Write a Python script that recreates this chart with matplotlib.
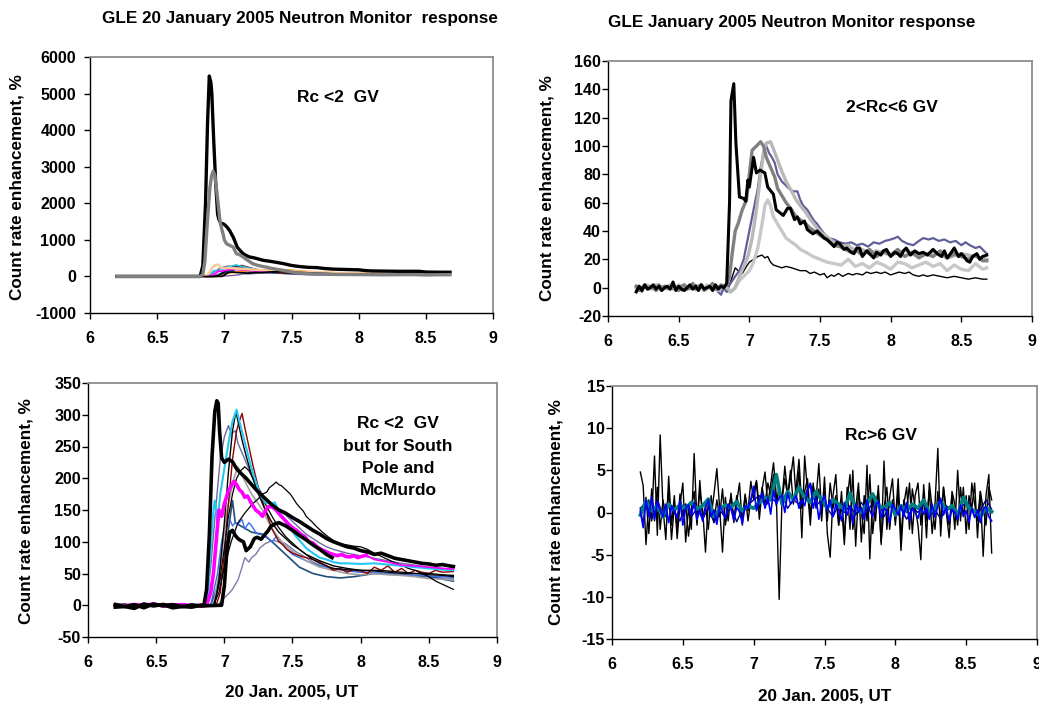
import numpy as np
import matplotlib
matplotlib.use("Agg")
import matplotlib.pyplot as plt
from matplotlib.ticker import FormatStrFormatter

plt.rcParams['font.family'] = ['Liberation Sans', 'DejaVu Sans']
plt.rcParams['font.weight'] = 'bold'
plt.rcParams['axes.unicode_minus'] = False

# ---------------- Panel 1 (Rc < 2 GV, all) ----------------
P1_SP_T = [6.2, 6.82, 6.84, 6.86, 6.875, 6.888, 6.9, 6.907, 6.92, 6.935, 6.95, 6.96, 6.975,
           6.99, 7.0, 7.02, 7.04, 7.066, 7.08, 7.096, 7.12, 7.14, 7.17, 7.19, 7.22, 7.25, 7.29,
           7.33, 7.38, 7.44, 7.5, 7.56, 7.62, 7.69, 7.75, 7.81, 7.9, 8.0, 8.05, 8.1, 8.2, 8.3,
           8.45, 8.5, 8.6, 8.68]
P1_SP_V = [0, 0, 300, 2000, 4200, 5480, 5300, 5000, 3800, 2600, 1700, 1550, 1450,
           1440, 1420, 1350, 1250, 1075, 950, 800, 700, 620, 560, 530, 510, 480, 440,
           420, 390, 350, 300, 270, 250, 240, 215, 200, 190, 180, 160, 150, 145, 140,
           140, 120, 115, 115]
P1_MC_T = [6.2, 6.82, 6.84, 6.855, 6.868, 6.88, 6.893, 6.905, 6.917, 6.93, 6.94, 6.955, 6.967,
           6.98, 6.99, 7.0, 7.017, 7.04, 7.066, 7.09, 7.11, 7.14, 7.17, 7.21, 7.25, 7.31, 7.38,
           7.44, 7.5, 7.56, 7.65, 7.81, 8.0, 8.2, 8.4, 8.5, 8.68]
P1_MC_V = [0, 0, 50, 400, 1170, 1800, 2440, 2750, 2880, 2750, 2440, 1950, 1530,
           1300, 1170, 1000, 890, 850, 800, 620, 600, 530, 450, 350, 300, 255, 200,
           165, 120, 90, 70, 55, 50, 45, 50, 40, 50]

# ---------------- Panel 2 (2 < Rc < 6 GV) ----------------
P2_PRE_T = np.linspace(6.20, 6.82, 32)
P2_BLACK_PRE = [-3, 1, -2, 2, -1, 0, 2, -1, 1, -2, 0, 1, -1, 4, -2, 1, -1, -2, 0, 2, -1, 1,
                -2, 2, -1, 0, 1, -2, 2, -1, 1, 0]
P2_BLACK_T = [6.84, 6.86, 6.87, 6.89, 6.905, 6.93, 6.96, 6.975, 6.99, 7.0, 7.03, 7.05, 7.075,
              7.11, 7.13, 7.17, 7.19, 7.24, 7.27, 7.29, 7.32, 7.34, 7.36, 7.39, 7.41, 7.45,
              7.48, 7.5, 7.53, 7.55, 7.58, 7.6, 7.62, 7.64, 7.67, 7.69, 7.72, 7.74, 7.76,
              7.78, 7.8, 7.83, 7.85, 7.88, 7.9, 7.93, 7.95, 7.97, 8.0, 8.03, 8.05, 8.07,
              8.09, 8.11, 8.14, 8.17, 8.2, 8.23, 8.26, 8.3, 8.33, 8.36, 8.38, 8.4, 8.43,
              8.45, 8.48, 8.5, 8.52, 8.54, 8.56, 8.58, 8.61, 8.63, 8.65, 8.68]
P2_BLACK_V = [3, 60, 132, 144, 102, 64, 63, 61, 76, 71, 92, 81, 83, 81, 71, 66, 55, 51, 56,
              56, 48, 50, 45, 47, 41, 38, 40, 38, 35, 34, 31, 29, 32, 31, 27, 28, 25, 24,
              28, 28, 22, 26, 24, 21, 25, 23, 26, 27, 22, 25, 24, 22, 26, 28, 23, 26, 24,
              25, 23, 27, 24, 22, 26, 21, 25, 28, 22, 24, 22, 19, 18, 22, 24, 20, 22, 23]
P2_DGRAY_PRE = [1, -2, 0, 2, -1, 1, 0, -2, 2, -1, 1, 0, -1, 2, 0, -2, 1, 2, -1, 0, 3, -1, 1,
                2, -2, 0, 1, 3, -1, 0, 2, 1]
P2_DGRAY_T = [6.84, 6.86, 6.88, 6.9, 6.92, 6.95, 6.98, 7.0, 7.02, 7.05, 7.08, 7.1, 7.12, 7.15,
              7.18, 7.2, 7.23, 7.26, 7.3, 7.33, 7.36, 7.4, 7.43, 7.46, 7.5, 7.53, 7.56, 7.6,
              7.64, 7.68, 7.72, 7.76, 7.8, 7.85, 7.9, 7.95, 8.0, 8.05, 8.1, 8.15, 8.2, 8.25,
              8.3, 8.35, 8.4, 8.45, 8.5, 8.55, 8.6, 8.65, 8.68]
P2_DGRAY_V = [2, 8, 25, 40, 45, 55, 62, 80, 97, 100, 103, 100, 92, 85, 78, 70, 65, 60, 55,
              50, 48, 45, 42, 40, 37, 35, 33, 30, 29, 27, 25, 26, 23, 27, 22, 26, 23, 27,
              22, 25, 21, 24, 22, 26, 21, 24, 22, 20, 23, 19, 19]
P2_SLATE_PRE = [-2, 0, -3, 1, -1, 0, 1, -2, 0, 1, -1, 0, 2, -1, 0, 1, -2, 0, 1, -1, 0, 2, -1,
                1, 0, -1, 1, -2, 0, -3, -5, 0]
P2_SLATE_T = [6.84, 6.86, 6.88, 6.9, 6.93, 6.96, 6.98, 7.0, 7.02, 7.04, 7.06, 7.08, 7.1, 7.12,
              7.14, 7.16, 7.18, 7.2, 7.23, 7.26, 7.28, 7.31, 7.34, 7.36, 7.38, 7.41, 7.44,
              7.46, 7.48, 7.5, 7.53, 7.56, 7.6, 7.64, 7.68, 7.72, 7.76, 7.8, 7.84, 7.88,
              7.92, 7.96, 8.0, 8.03, 8.05, 8.08, 8.12, 8.16, 8.2, 8.23, 8.27, 8.3, 8.34,
              8.38, 8.42, 8.46, 8.5, 8.53, 8.56, 8.6, 8.63, 8.66, 8.68]
P2_SLATE_V = [-3, 2, 5, 8, 12, 20, 30, 40, 50, 60, 70, 85, 95, 100, 95, 92, 88, 80, 75, 72,
              70, 68, 68, 62, 58, 55, 50, 47, 45, 42, 38, 35, 34, 32, 31, 32, 30, 31, 29,
              32, 31, 33, 34, 35, 36, 33, 31, 30, 33, 35, 34, 35, 33, 34, 32, 33, 30, 32,
              30, 28, 29, 26, 24]
P2_LGRAY_PRE = [0, 1, -1, 2, 0, -1, 1, 2, -1, 0, 1, -1, 2, 0, -1, 1, 0, 2, -1, 1, 0, -1, 1, 2,
                0, -1, 1, 0, 2, -2, 0, 1]
P2_LGRAY_T = [6.84, 6.87, 6.9, 6.93, 6.96, 6.99, 7.02, 7.05, 7.08, 7.1, 7.12, 7.15, 7.17, 7.2,
              7.23, 7.26, 7.3, 7.33, 7.36, 7.4, 7.44, 7.48, 7.52, 7.56, 7.6, 7.65, 7.7, 7.75,
              7.8, 7.85, 7.9, 8.0, 8.1, 8.2, 8.3, 8.4, 8.5, 8.6, 8.68]
P2_LGRAY_V = [0, -3, 0, 8, 15, 22, 35, 55, 80, 95, 102, 103, 98, 90, 82, 75, 68, 62, 58, 53,
              47, 42, 38, 35, 32, 29, 30, 26, 27, 24, 26, 23, 26, 22, 25, 21, 24, 22, 20]
P2_PALE_PRE = [1, 0, -1, 1, 2, 0, -1, 1, 0, -2, 1, 0, 1, -1, 0, 2, 1, -1, 0, 1, -1, 0, 1, 0,
               -1, 2, 0, 1, -1, 0, -2, -1]
P2_PALE_T = [6.84, 6.86, 6.88, 6.9, 6.93, 6.96, 7.0, 7.03, 7.06, 7.09, 7.11, 7.13, 7.15, 7.17,
             7.2, 7.23, 7.26, 7.3, 7.33, 7.36, 7.4, 7.45, 7.5, 7.55, 7.6, 7.65, 7.7, 7.75,
             7.8, 7.85, 7.9, 7.95, 8.0, 8.05, 8.1, 8.15, 8.2, 8.25, 8.3, 8.35, 8.4, 8.45,
             8.5, 8.55, 8.6, 8.65, 8.68]
P2_PALE_V = [-2, -3, -2, 0, 5, 8, 12, 18, 28, 45, 58, 62, 58, 50, 45, 40, 35, 32, 30, 27, 25,
             22, 20, 18, 17, 16, 20, 15, 17, 14, 18, 16, 13, 18, 17, 14, 16, 18, 15, 17, 12,
             16, 13, 12, 17, 13, 14]
P2_THIN_PRE = [0, 1, -1, 1, 0, -1, 1, 0, 1, -1, 0, 1, -1, 2, 0, 1, -1, 0, 1, 0, -1, 1, 0, 1,
               -1, 0, 1, -1, 1, 0, 1, 0]
P2_THIN_T = [6.84, 6.86, 6.88, 6.9, 6.92, 6.95, 6.98, 7.0, 7.03, 7.06, 7.09, 7.11, 7.13, 7.15,
             7.17, 7.2, 7.23, 7.26, 7.3, 7.33, 7.36, 7.4, 7.43, 7.46, 7.5, 7.53, 7.55, 7.58,
             7.6, 7.63, 7.66, 7.7, 7.73, 7.76, 7.8, 7.83, 7.86, 7.9, 7.93, 7.96, 8.0, 8.03,
             8.06, 8.1, 8.13, 8.16, 8.2, 8.23, 8.26, 8.3, 8.35, 8.4, 8.45, 8.5, 8.55, 8.6,
             8.65, 8.68]
P2_THIN_V = [0, 2, 8, 14, 12, 10, 15, 18, 20, 22, 23, 21, 22, 18, 16, 15, 14, 15, 14, 13, 12,
             12, 10, 11, 9, 10, 7, 9, 8, 10, 8, 10, 9, 10, 9, 11, 10, 11, 10, 11, 9, 10, 11,
             10, 11, 9, 8, 9, 8, 9, 8, 7, 8, 7, 6, 7, 6, 6]

# ---------------- Panel 3 (Rc < 2 GV without SP / McMurdo) ----------------
P3_PRE_T = [6.2, 6.27, 6.34, 6.41, 6.48, 6.55, 6.62, 6.69, 6.76, 6.83]

P3_A_PRE = [-3, -2, 1, -4, 2, -1, 1, -2, -3, 0]
P3_A_T = [6.85, 6.87, 6.89, 6.91, 6.93, 6.945, 6.955, 6.965, 6.98, 7.0, 7.03, 7.06, 7.09, 7.12,
          7.16, 7.2, 7.25, 7.3, 7.35, 7.4, 7.45, 7.5, 7.55, 7.6, 7.65, 7.7, 7.75, 7.8, 7.85,
          7.9, 7.95, 8.0, 8.05, 8.1, 8.15, 8.2, 8.25, 8.3, 8.35, 8.4, 8.45, 8.5, 8.55, 8.6,
          8.65, 8.68]
P3_A_V = [0, 25, 110, 235, 305, 322, 318, 275, 232, 225, 230, 226, 215, 208, 200, 190, 178,
          168, 158, 150, 145, 138, 132, 125, 118, 112, 105, 100, 96, 92, 90, 86, 84, 80, 82,
          78, 74, 72, 70, 68, 66, 65, 63, 64, 62, 61]

P3_B_PRE = [1, -2, -5, 2, -1, 1, -4, -2, 0, -1]
P3_B_T = [6.98, 7.0, 7.02, 7.04, 7.06, 7.08, 7.1, 7.12, 7.14, 7.16, 7.19, 7.22, 7.24, 7.27,
          7.3, 7.32, 7.34, 7.37, 7.4, 7.45, 7.5, 7.55, 7.6, 7.65, 7.7, 7.75, 7.79]
P3_B_V = [0, 30, 90, 115, 118, 110, 105, 102, 100, 86, 92, 105, 107, 104, 112, 117, 124, 128,
          130, 125, 118, 110, 103, 95, 88, 80, 75]

P3_C_PRE = [0, 2, -1, 1, -2, 0, 2, -1, 1, 0]
P3_C_T = [6.92, 6.96, 7.0, 7.05, 7.1, 7.15, 7.2, 7.25, 7.28, 7.31, 7.33, 7.36, 7.38, 7.4, 7.42,
          7.45, 7.48, 7.5, 7.53, 7.55, 7.58, 7.6, 7.64, 7.68, 7.72, 7.76, 7.8, 7.85, 7.9,
          7.95, 8.0, 8.05, 8.1, 8.15, 8.2, 8.25, 8.3, 8.35, 8.4, 8.45, 8.5, 8.55, 8.6, 8.65,
          8.68]
P3_C_V = [0, 20, 60, 100, 130, 145, 158, 168, 175, 178, 185, 190, 194, 190, 188, 182, 176,
          170, 160, 155, 148, 140, 132, 123, 115, 108, 102, 97, 95, 93, 92, 88, 82, 77, 72,
          67, 63, 58, 55, 50, 45, 38, 33, 28, 25]

P3_D_PRE = [1, -1, 2, 0, -2, 1, 0, -1, 2, 0]
P3_D_T = [6.92, 6.96, 7.0, 7.03, 7.06, 7.09, 7.12, 7.15, 7.18, 7.21, 7.25, 7.3, 7.35, 7.4,
          7.45, 7.5, 7.55, 7.6, 7.65, 7.7, 7.75, 7.8, 7.9, 8.0, 8.1, 8.2, 8.3, 8.4, 8.5, 8.6,
          8.68]
P3_D_V = [0, 30, 90, 140, 175, 200, 212, 218, 212, 200, 180, 160, 140, 122, 108, 98, 88, 80,
          72, 66, 62, 58, 56, 55, 54, 52, 50, 50, 48, 47, 45]

P3_E_PRE = [-1, 1, 0, 2, -1, 0, 1, -2, 0, 1]
P3_E_T = [6.93, 6.96, 7.0, 7.03, 7.06, 7.085, 7.1, 7.13, 7.16, 7.2, 7.25, 7.3, 7.35, 7.4,
          7.45, 7.5, 7.55, 7.6, 7.7, 7.8, 7.9, 8.0, 8.1, 8.2, 8.3, 8.4, 8.5, 8.6, 8.68]
P3_E_V = [0, 40, 130, 210, 275, 305, 290, 260, 235, 205, 175, 150, 130, 115, 105, 95, 88, 80,
          70, 62, 58, 55, 55, 54, 52, 50, 50, 48, 47]

P3_CYAN_PRE = [2, 0, 1, -1, 2, 0, -1, 1, 0, 1]
P3_CYAN_T = [6.86, 6.88, 6.9, 6.92, 6.93, 6.95, 6.97, 7.0, 7.03, 7.06, 7.09, 7.11, 7.14, 7.17,
             7.2, 7.23, 7.26, 7.3, 7.34, 7.37, 7.4, 7.44, 7.48, 7.52, 7.56, 7.6, 7.65, 7.7,
             7.75, 7.8, 7.85, 7.9, 8.0, 8.1, 8.2, 8.3, 8.4, 8.5, 8.6, 8.68]
P3_CYAN_V = [0, 20, 90, 150, 165, 130, 175, 215, 255, 290, 308, 290, 265, 240, 215, 195, 175,
             162, 160, 162, 148, 135, 122, 110, 100, 90, 82, 75, 72, 68, 66, 66, 65, 66, 64,
             62, 60, 58, 56, 55]

P3_RED_PRE = [3, 1, -1, 2, 0, 3, 1, -1, 0, -3]
P3_RED_T = [6.94, 6.97, 7.0, 7.03, 7.06, 7.09, 7.11, 7.13, 7.15, 7.18, 7.21, 7.25, 7.3, 7.35,
            7.4, 7.43, 7.46, 7.5, 7.55, 7.6, 7.65, 7.7, 7.75, 7.8, 7.85, 7.9, 7.95, 8.0, 8.05,
            8.1, 8.15, 8.2, 8.25, 8.3, 8.35, 8.4, 8.45, 8.5, 8.55, 8.6, 8.68]
P3_RED_V = [0, 20, 80, 160, 230, 275, 290, 302, 280, 250, 220, 185, 150, 120, 100, 95, 88,
            82, 78, 75, 72, 68, 62, 55, 58, 52, 56, 54, 50, 60, 55, 62, 52, 58, 50, 55, 52,
            50, 55, 52, 53]

P3_SLATE_PRE = [0, 1, -1, 0, 2, -1, 0, 1, -1, 0]
P3_SLATE_T = [6.86, 6.88, 6.9, 6.92, 6.94, 6.97, 7.0, 7.03, 7.05, 7.08, 7.1, 7.13, 7.16, 7.2,
              7.25, 7.3, 7.35, 7.4, 7.45, 7.5, 7.55, 7.6, 7.65, 7.7, 7.75, 7.8, 7.85, 7.9,
              8.0, 8.1, 8.2, 8.3, 8.4, 8.5, 8.6, 8.68]
P3_SLATE_V = [0, 20, 60, 110, 160, 230, 265, 283, 270, 275, 255, 240, 225, 205, 185, 168, 158,
              150, 142, 132, 122, 112, 105, 98, 92, 88, 85, 82, 78, 74, 70, 66, 63, 60, 58, 57]

P3_LAV_PRE = [1, 0, 2, -1, 1, 0, -1, 1, 2, 0]
P3_LAV_T = [6.95, 7.0, 7.03, 7.06, 7.1, 7.13, 7.15, 7.18, 7.2, 7.23, 7.26, 7.3, 7.33, 7.36,
            7.4, 7.44, 7.48, 7.52, 7.56, 7.6, 7.65, 7.7, 7.75, 7.8, 7.9, 8.0, 8.1, 8.2, 8.3,
            8.4, 8.5, 8.6, 8.68]
P3_LAV_V = [0, 12, 18, 25, 40, 60, 75, 68, 75, 80, 90, 97, 100, 102, 100, 98, 92, 85, 80, 75,
            68, 63, 60, 57, 54, 52, 50, 50, 48, 47, 45, 43, 42]

P3_MAG_PRE = [0, -1, 1, 0, 2, -1, 0, 1, -1, 0]
P3_MAG_T = [6.87, 6.9, 6.92, 6.94, 6.96, 6.98, 7.0, 7.03, 7.05, 7.07, 7.09, 7.11, 7.13, 7.15,
            7.17, 7.2, 7.23, 7.26, 7.28, 7.3, 7.32, 7.35, 7.38, 7.41, 7.44, 7.47, 7.5, 7.53,
            7.56, 7.59, 7.62, 7.65, 7.68, 7.71, 7.74, 7.77, 7.8, 7.83, 7.86, 7.89, 7.92,
            7.95, 7.98, 8.01, 8.04]
P3_MAG_V = [0, 20, 50, 100, 150, 140, 160, 180, 188, 195, 190, 182, 178, 170, 172, 160, 150,
            145, 140, 148, 155, 155, 150, 142, 135, 128, 122, 118, 112, 108, 100, 98, 92, 88,
            85, 82, 80, 78, 80, 77, 76, 78, 75, 77, 79]
P3_MAG2_T = [8.04, 8.1, 8.2, 8.3, 8.4, 8.5, 8.6, 8.68]
P3_MAG2_V = [79, 72, 68, 63, 62, 60, 58, 57]

P3_GRAY_PRE = [-1, 1, 0, -2, 1, 0, 2, -1, 0, 1]
P3_GRAY_T = [6.92, 6.97, 7.02, 7.07, 7.1, 7.14, 7.2, 7.28, 7.35, 7.42, 7.5, 7.6, 7.7, 7.8,
             7.9, 8.0, 8.1, 8.2, 8.3, 8.4, 8.5, 8.6, 8.68]
P3_GRAY_V = [0, 60, 150, 200, 218, 200, 175, 150, 120, 100, 85, 70, 60, 55, 50, 48, 50, 48,
             47, 45, 42, 41, 40]

P3_BLUE_PRE = [2, -1, 1, 3, 0, -1, 2, 0, 1, 0]
P3_BLUE_T = [6.9, 6.95, 6.98, 7.0, 7.03, 7.06, 7.08, 7.1, 7.13, 7.15, 7.18, 7.2, 7.23, 7.25,
             7.3, 7.35, 7.38, 7.4, 7.45, 7.5, 7.6, 7.7, 7.8, 7.9, 8.0, 8.1, 8.2, 8.3, 8.4,
             8.5, 8.6, 8.68]
P3_BLUE_V = [0, 50, 100, 120, 140, 125, 130, 128, 135, 120, 130, 125, 115, 112, 110, 100, 108,
             105, 90, 80, 70, 62, 58, 55, 52, 52, 50, 48, 47, 46, 45, 44]

P3_STEEL_PRE = [-2, 0, 1, -1, 0, 2, -2, 0, -1, 0]
P3_STEEL_T = [6.9, 6.95, 7.0, 7.03, 7.06, 7.08, 7.12, 7.16, 7.2, 7.28, 7.35, 7.45, 7.55, 7.65,
              7.75, 7.85, 7.95, 8.1, 8.3, 8.5, 8.68]
P3_STEEL_V = [0, 30, 60, 120, 165, 130, 125, 120, 115, 112, 100, 80, 60, 50, 45, 43, 45, 50,
              48, 45, 38]

# ---------------- Panel 4 (Rc > 6 GV) ----------------
P4_BLACK1 = [4.8, 3.2, -3.8, 1.5, -1.0, 6.7, -2.7, 9.2, 0.5, -3.2, 4.3, -1.5, 2.0, -3.1,
             1.0, 3.5, -3.5, 0.5, -2.0, 7.0, -1.2, 2.5, 0.3, -4.7, 1.5, -0.5, 2.2, 5.2, 0.5,
             -4.7, 1.8, -1.0, 2.3, -0.8, 1.2, 3.5, -1.5, 2.0, 0.2, 3.7,
             1.5, 3.6, -0.8, 2.8, 4.8, 1.0, 3.3, 5.9, 2.0, -10.3, 1.5, 5.5, 2.0, 4.0, 6.6,
             1.5, 5.0, -3.0, 6.7, 2.5, -1.5, 3.5, 0.5, 2.8, -1.0, 4.2, -2.5, -5.3, 2.0, 4.5,
             -1.5, 1.0, -3.8, 3.0, -2.0, 5.0, -4.0, 2.5, 0.0, -2.5, 5.6, -5.5, 2.0, -1.0,
             3.2, -3.8, 6.1, -2.0, 1.8, 4.0, -1.5, 2.5, -4.5, 1.0, 3.0, -2.0, 2.8, 0.5, -1.5,
             -5.6, 3.3, -1.0, 2.5, -2.5, 1.0, 7.6, -2.8, 3.0, 0.0, -1.5, 2.0, -2.0, 5.0,
             -1.0, 3.0, -2.5, 2.0, 0.5, 3.5, -3.0, 2.5, -5.2, 2.0, 4.5, -4.8]
P4_BLACK2 = [0.5, -1.5, 1.8, -2.5, 2.8, -1.0, 3.0, -2.0, 1.5, -0.5, 2.5, -3.2, 0.8, -1.8,
             2.2, -0.5, 1.0, -2.8, 0.5, 2.5, -1.5, 3.8, -1.0, 0.8, -2.0, 2.0, -1.2, 1.5,
             -0.5, 2.8, -1.5, 0.5, 1.8, -1.2, 2.0, 0.5, -0.8, 2.2, -1.0, 1.5,
             2.5, 3.8, 0.5, 3.0, 1.0, 3.5, 2.0, 4.5, 0.8, 3.2, 1.5, 4.0, 2.0, 5.0, 1.0, 3.0,
             6.3, 0.5, 2.5, 4.0, -0.5, 3.0, 1.5, 5.8, 0.0, 2.5, -1.0, 3.5, 0.5, 2.0,
             -1.5, 2.5, -3.0, 1.5, 4.5, -2.0, 0.5, 3.5, -3.5, 2.0, -1.0, 4.5, -2.5, 1.0, 2.5,
             -3.5, 0.5, 3.0, -2.0, 1.5, -1.0, 4.0, -3.0, 1.5, 0.0, 3.5, -2.5, 2.0, 3.5, -1.5,
             2.5, -3.0, 3.5, 0.5, -2.0, 2.5, -1.5, 3.0, 0.0, -3.0, 2.5, 1.0, -1.5, 3.0, -0.5,
             2.0, -2.0, 3.5, 1.0, -1.0, 2.5, 0.5, -1.5, 3.0, 1.5]
P4_BLUE = [0.2, -1.8, 1.5, -0.5, 1.8, -0.8, 1.2, 0.3, -0.5, 1.0, -1.2, 0.8, 0.2, -0.6, 1.4,
           -1.5, 0.5, 0.9, -0.3, 1.2, -0.8, 0.4, -1.0, 0.6, 1.5, -0.5, 0.3, -1.4, 0.8, 0.2,
           -0.7, 1.0, 0.4, -0.9, 0.6, 0.1, -1.3, 0.8, 0.5, 1.5,
           3.1, 0.2, 1.5, 2.3, 0.5, 1.8, -0.2, 2.6, 1.0, 1.8, 2.0, 0.0, 2.3, 1.0, 1.5, 2.0,
           0.5, 1.5, 0.8, 2.5, 3.4, 0.5, 1.8, -0.8, 1.2, 2.0, 0.3, 1.5, -0.5, 1.0,
           0.3, -1.0, 1.2, -0.3, 0.8, -1.3, 1.0, 0.0, 0.6, -0.8, 1.5, 0.2, -0.5, 0.9, 1.3,
           -0.6, 0.5, 0.2, -1.2, 1.0, 0.4, -0.3, 0.8, -0.5, 1.2, -1.0, 0.5, 0.0, -0.7, 0.6,
           -0.2, 0.5, -0.8, 1.0, -0.5, 0.8, 1.7, -0.3, 0.6, -1.0, 0.4, 0.0, -0.8, 0.9, -0.4,
           0.2, -1.1, 0.5, -0.6, 0.3, -1.2, 0.4, 0.7, -0.5, -1.0]
P4_NAVY = [0.5, 1.2, -0.8, 1.5, -0.3, 0.8, 0.0, -1.0, 1.0, -0.5, 0.5, -0.8, 0.6, -1.2, 0.3,
           -0.6, 0.8, -1.1, 0.4, 0.9,
           1.5, 2.0, 0.8, 1.8, 1.2, 2.2, 0.5, 1.5, 1.0, 2.0, 3.5, 0.8, 1.5,
           0.5, -0.5, 1.0, 0.0, 0.8, -0.3, 1.2, 0.2, 1.0, 1.5, -0.5, 0.8, 0.2,
           0.5, -0.8, 0.6, 0.0, 1.0, -0.5, 0.4, -0.8, 0.8, 0.2, -0.4, 0.9, 1.2, -0.5, 0.3,
           1.5, 0.4]
P4_TEAL = [-0.3, 1.4, 0.2, 0.8, -0.5, 1.0, 0.3, 0.9, 0.5, 1.2, 0.4, 0.8, 1.6, -0.5, 0.4,
           0.9, 0.6, 1.3, 0.2, 0.8,
           0.5, 1.2, 1.8, 1.5, 4.5, 1.0, 2.5, 1.5, 3.0, 1.8, 1.2, 2.5, 1.5,
           0.5, 1.5, 1.0, 0.3, 2.3, 0.5, 0.0, 1.0, 2.2, 0.8, 0.5, 1.2, -0.3,
           0.8, 0.2, 1.0, 0.5, 1.5, 0.0, 0.5, 1.3, 0.3, 0.8, -0.3, 1.8, 0.5, 0.2, -0.5,
           0.6, 0.1]

T_START, T_END = 6.20, 8.68

# ---------------- Figure ----------------
W, H = 1039, 704
fig = plt.figure(figsize=(W / 100, H / 100), dpi=100)
fig.patch.set_facecolor('white')

TICK_FS = 11.5
LABEL_FS = 12.3
TITLE_FS = 12.3
NOTE_FS = 12.5


def make_ax(left, right, top, bottom):
    return fig.add_axes([left / W, 1 - bottom / H, (right - left) / W, (bottom - top) / H])


def style(ax, ylim, ystep, ypad):
    ax.set_xlim(6, 9)
    ax.set_ylim(*ylim)
    ax.set_xticks(np.arange(6, 9.01, 0.5))
    ax.set_yticks(np.arange(ylim[0], ylim[1] + ystep * 0.01, ystep))
    ax.xaxis.set_major_formatter(FormatStrFormatter('%g'))
    ax.yaxis.set_major_formatter(FormatStrFormatter('%g'))
    for s in ('top', 'right'):
        ax.spines[s].set_color('#8c8c8c')
        ax.spines[s].set_linewidth(1.3)
    for s in ('left', 'bottom'):
        ax.spines[s].set_color('black')
        ax.spines[s].set_linewidth(1.0)
    ax.tick_params(axis='x', direction='out', length=4, width=1, pad=9, labelsize=TICK_FS)
    ax.tick_params(axis='y', direction='out', length=4, width=1, pad=ypad, labelsize=TICK_FS)
    for lab in ax.get_xticklabels() + ax.get_yticklabels():
        lab.set_fontweight('bold')


def ftext(x, y, s, **kw):
    fig.text(x / W, 1 - y / H, s, ha='center', va='center', fontweight='bold', **kw)


def seg(pre_t, pre_v, t, v):
    tt = list(pre_t) + list(t)
    vv = list(pre_v) + list(v)
    n = min(len(tt), len(vv))
    return tt[:n], vv[:n]


P3_SERIES = [
    ('lav', P3_LAV_PRE, P3_LAV_T, P3_LAV_V),
    ('steel', P3_STEEL_PRE, P3_STEEL_T, P3_STEEL_V),
    ('blue', P3_BLUE_PRE, P3_BLUE_T, P3_BLUE_V),
    ('gray', P3_GRAY_PRE, P3_GRAY_T, P3_GRAY_V),
    ('slate', P3_SLATE_PRE, P3_SLATE_T, P3_SLATE_V),
    ('red', P3_RED_PRE, P3_RED_T, P3_RED_V),
    ('C', P3_C_PRE, P3_C_T, P3_C_V),
    ('D', P3_D_PRE, P3_D_T, P3_D_V),
    ('E', P3_E_PRE, P3_E_T, P3_E_V),
    ('cyan', P3_CYAN_PRE, P3_CYAN_T, P3_CYAN_V),
    ('mag', P3_MAG_PRE, P3_MAG_T, P3_MAG_V),
    ('A', P3_A_PRE, P3_A_T, P3_A_V),
    ('B', P3_B_PRE, P3_B_T, P3_B_V),
]
P3_STYLE = {
    'lav': ('#7b7bb0', 1.0), 'steel': ('#1f4e79', 1.2), 'blue': ('#3a6cf0', 1.0),
    'gray': ('#a0a0a0', 1.2), 'slate': ('#6a6aa0', 1.0), 'red': ('#8b0000', 1.0),
    'C': ('black', 0.9), 'D': ('black', 0.9), 'E': ('black', 1.0),
    'cyan': ('#22c8f0', 1.5), 'mag': ('#ff00ff', 2.6), 'A': ('black', 2.6), 'B': ('black', 2.6),
}
P1_STYLE = {
    'lav': ('#7b5ea8', 1.0), 'steel': ('#1f3f8f', 1.2), 'blue': ('#3a6cf0', 1.0),
    'gray': ('#a0a0a0', 1.0), 'slate': ('#6a6aa0', 1.0), 'red': ('#8b0000', 1.0),
    'C': ('#ff9900', 1.2), 'D': ('#003366', 1.0), 'E': ('black', 1.0),
    'cyan': ('#22c8f0', 1.2), 'mag': ('#ff00ff', 1.2), 'A': ('#ffc896', 1.8), 'B': ('black', 1.2),
}

# ---- Panel 1 ----
ax1 = make_ax(90, 493, 57, 313)
for key, pre, t, v in P3_SERIES:
    c, lw = P1_STYLE[key]
    tt, vv = seg(P3_PRE_T, pre, t, v)
    ax1.plot(tt, vv, color=c, lw=lw)
ax1.plot(P1_SP_T, P1_SP_V, color='black', lw=2.4, solid_joinstyle='round')
ax1.plot(P1_MC_T, P1_MC_V, color='#808080', lw=2.4, solid_joinstyle='round')
style(ax1, (-1000, 6000), 1000, 6)
ftext(338, 97, 'Rc <2  GV', fontsize=NOTE_FS)
ftext(300, 19, 'GLE 20 January 2005 Neutron Monitor  response', fontsize=TITLE_FS)
ftext(17, 187, 'Count rate enhancement, %', rotation=90, fontsize=LABEL_FS)

# ---- Panel 2 ----
ax2 = make_ax(608, 1032, 61, 316)
P2_SERIES = [
    (P2_THIN_PRE, P2_THIN_T, P2_THIN_V, 'black', 1.0),
    (P2_PALE_PRE, P2_PALE_T, P2_PALE_V, '#c8c8c8', 2.4),
    (P2_SLATE_PRE, P2_SLATE_T, P2_SLATE_V, '#5f5f9a', 1.6),
    (P2_LGRAY_PRE, P2_LGRAY_T, P2_LGRAY_V, '#b8b8b8', 2.4),
    (P2_DGRAY_PRE, P2_DGRAY_T, P2_DGRAY_V, '#808080', 2.4),
    (P2_BLACK_PRE, P2_BLACK_T, P2_BLACK_V, 'black', 2.2),
]
for pre, t, v, c, lw in P2_SERIES:
    tt, vv = seg(P2_PRE_T, pre, t, v)
    ax2.plot(tt, vv, color=c, lw=lw)
style(ax2, (-20, 160), 20, 1)
ftext(892, 107, '2<Rc<6 GV', fontsize=NOTE_FS)
ftext(792, 23, 'GLE January 2005 Neutron Monitor response', fontsize=TITLE_FS)
ftext(547, 188, 'Count rate enhancement, %', rotation=90, fontsize=LABEL_FS)

# ---- Panel 3 ----
ax3 = make_ax(88, 497, 383, 637)
for key, pre, t, v in P3_SERIES:
    c, lw = P3_STYLE[key]
    tt, vv = seg(P3_PRE_T, pre, t, v)
    ax3.plot(tt, vv, color=c, lw=lw)
ax3.plot(P3_MAG2_T, P3_MAG2_V, color='#ff00ff', lw=1.2)
style(ax3, (-50, 350), 50, 1)
for i, line in enumerate(['Rc <2  GV', 'but for South', 'Pole and', 'McMurdo']):
    ftext(398, 424 + 22.3 * i, line, fontsize=NOTE_FS)
ftext(26, 511, 'Count rate enhancement, %', rotation=90, fontsize=LABEL_FS)
ftext(292, 692, '20 Jan. 2005, UT', fontsize=LABEL_FS)

# ---- Panel 4 ----
ax4 = make_ax(612, 1037, 386, 639)
ax4.plot(np.linspace(T_START, T_END, len(P4_BLACK1)), P4_BLACK1, color='black', lw=1.0)
ax4.plot(np.linspace(T_START, T_END, len(P4_BLACK2)), P4_BLACK2, color='black', lw=1.0)
ax4.plot(np.linspace(T_START, T_END, len(P4_NAVY)), P4_NAVY, color='#000080', lw=1.0)
ax4.plot(np.linspace(T_START, T_END, len(P4_TEAL)), P4_TEAL, color='#008080', lw=2.6)
ax4.plot(np.linspace(T_START, T_END, len(P4_BLUE)), P4_BLUE, color='#0000ff', lw=1.2)
style(ax4, (-15, 15), 5, 1)
ftext(881, 436, 'Rc>6 GV', fontsize=NOTE_FS)
ftext(556, 512, 'Count rate enhancement, %', rotation=90, fontsize=LABEL_FS)
ftext(825, 696, '20 Jan. 2005, UT', fontsize=LABEL_FS)

fig.savefig('out.png', dpi=100)
